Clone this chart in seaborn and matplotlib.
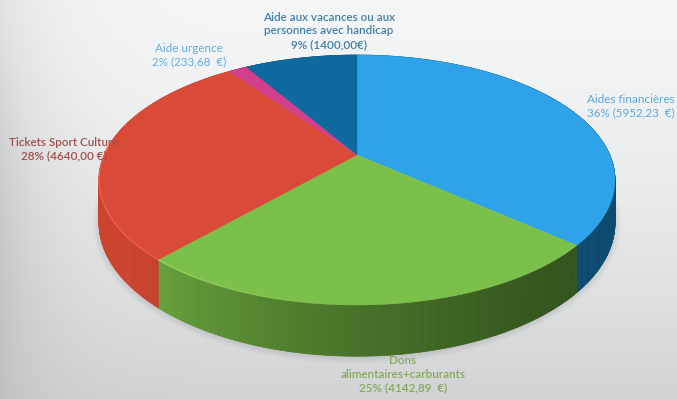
import numpy as np
import matplotlib
matplotlib.use("Agg")
import matplotlib.pyplot as plt
from matplotlib.collections import PolyCollection, LineCollection
from matplotlib.patches import Polygon
import seaborn as sns

# Budget split by type of aid
names = ["Aides financières", "Dons\nalimentaires+carburants", "Tickets Sport Culture",
         "Aide urgence", "Aide aux vacances ou aux\npersonnes avec handicap"]
euros = [5952.23, 4142.89, 4640.00, 233.68, 1400.00]
percents = [36, 25, 28, 2, 9]
amount_text = ["5952,23  €", "4142,89  €", "4640,00 €", "233,68  €", "1400,00€"]

top_colors = sns.color_palette(["#2ea3e9", "#7bc04a", "#da4a38", "#d13f8e", "#0e6a9e"])
side_light = ["#125c8c", "#74b344", "#cc432e", "#a83070", "#0a5078"]
side_dark = ["#0c4a70", "#31521a", "#a83424", "#7a2050", "#083c5c"]
rim_colors = ["#2ea3e9", "#a4e066", "#f06a52", "#d13f8e", "#0e6a9e"]
label_colors = ["#5aa9dc", "#86a85a", "#a04f4a", "#62aede", "#3f7fa8"]
label_pos = [(631, 106), (403, 374), (64, 149), (189, 55), (329, 31)]
label_weight = ["normal", "semibold", "semibold", "normal", "semibold"]

sns.set_theme(style="white")
plt.rcParams["font.family"] = ["Lato", "DejaVu Sans"]

fig = plt.figure(figsize=(6.77, 3.99), dpi=100)
ax = fig.add_axes([0, 0, 1, 1])
ax.set_xlim(0, 677)
ax.set_ylim(399, 0)
ax.axis("off")

# Grey backdrop: darker towards the bottom and along the left edge
yy, xx = np.mgrid[0:399, 0:677]
shade = 0.965 - 0.135 * (yy / 399) ** 1.6 - 0.12 * np.exp(-xx / 50) * (0.6 + 0.4 * np.sin(np.pi * yy / 399))
ax.imshow(np.dstack([shade * 0.99, shade * 0.995, shade]), extent=(0, 677, 399, 0),
          aspect="auto", zorder=0)

# Perspective projection of the unit disc onto the page
CX, CY, A, B, K, DEPTH = 357, 155, 252.8, 120, 0.2, 41


def project(theta, drop=0.0):
    u, v = np.sin(theta), np.cos(theta)
    w = 1 + K * v
    return CX + A * u / w, CY - B * v / w + drop * DEPTH / w


def rgb(c):
    return np.array(matplotlib.colors.to_rgb(c))


edges = np.radians(np.concatenate([[0], np.cumsum(euros)]) / np.sum(euros) * 360)

# Faint drop shadow hugging the base of the disc
circle = np.linspace(0, 2 * np.pi, 400)
bx, by = project(circle, 1.0)
for lw in (9, 6, 4, 2):
    ax.add_patch(Polygon(np.column_stack([bx, by + 1]), closed=True, facecolor="none",
                         edgecolor="#50545a", alpha=0.035, linewidth=lw, zorder=1))

# Rim: each wedge's arc extruded downward, shaded from left to right
for i in range(len(euros)):
    arc = np.linspace(edges[i], edges[i + 1], max(int(np.degrees(edges[i + 1] - edges[i])) * 2, 3))
    cells, colors = [], []
    for a0, a1 in zip(arc[:-1], arc[1:]):
        cells.append([project(a0), project(a1), project(a1, 1), project(a0, 1)])
        x_mid = project((a0 + a1) / 2)[0]
        t = np.clip((x_mid - 130) / 445, 0, 1) ** 0.6
        colors.append((1 - t) * rgb(side_light[i]) + t * rgb(side_dark[i]))
    ax.add_collection(PolyCollection(cells, facecolors=colors, edgecolors="face",
                                     linewidths=0.5, zorder=2))

# Top face
for i in range(len(euros)):
    arc = np.linspace(edges[i], edges[i + 1], 200)
    px, py = project(arc)
    verts = np.column_stack([np.r_[CX, px], np.r_[CY, py]])
    ax.add_patch(Polygon(verts, closed=True, facecolor=top_colors[i],
                         edgecolor=top_colors[i], linewidth=0.3, zorder=3))

# Bright lip along the front-left edge of the top face, fading to the right
for i in range(len(euros)):
    arc = np.linspace(edges[i], edges[i + 1], 120)
    px, py = project(arc)
    segs = np.stack([np.column_stack([px[:-1], py[:-1]]), np.column_stack([px[1:], py[1:]])], axis=1)
    fade = np.clip(1 - (px[:-1] - 120) / 230, 0, 1) * (np.cos(arc[:-1]) < 0.1)
    seg_colors = np.column_stack([np.tile(rgb(rim_colors[i]), (len(fade), 1)), 0.8 * fade])
    ax.add_collection(LineCollection(segs, colors=seg_colors, linewidths=1.0, zorder=4))

for name, pct, amount, color, (x, y), weight in zip(names, percents, amount_text,
                                                    label_colors, label_pos, label_weight):
    ax.text(x, y, f"{name}\n{pct}% ({amount})", color=color, fontsize=8.4, fontweight=weight,
            ha="center", va="center", linespacing=1.3, zorder=5)

fig.savefig("out.png", dpi=100)
